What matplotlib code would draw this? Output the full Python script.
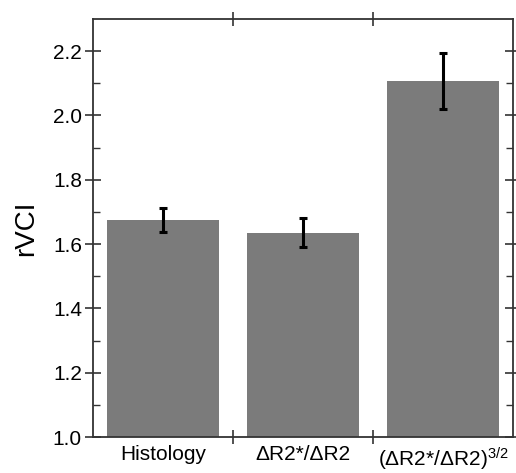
import matplotlib
matplotlib.use("Agg")
import matplotlib.pyplot as plt
from matplotlib.ticker import FixedLocator, FormatStrFormatter

plt.rcParams['font.family'] = ['Liberation Sans', 'DejaVu Sans']
plt.rcParams['mathtext.fontset'] = 'custom'
plt.rcParams['mathtext.rm'] = 'Liberation Sans'
plt.rcParams['mathtext.it'] = 'Liberation Sans'

categories = ["Histology", "ΔR2*/ΔR2", "(ΔR2*/ΔR2)$^{3/2}$"]
values = [1.675, 1.635, 2.107]
errors = [0.037, 0.045, 0.087]

fig = plt.figure(figsize=(5.16, 4.73), dpi=100)
ax = fig.add_axes([93/516, 1-437/473, (513-93)/516, (437-19)/473])

x = list(range(len(categories)))
ax.bar(x, [v - 1.0 for v in values], bottom=1.0, width=0.8, color='#7b7b7b', zorder=2)
ax.errorbar(x, values, yerr=errors, fmt='none', ecolor='black', elinewidth=2.2,
            capsize=3, capthick=2.2, zorder=3)

ax.set_xlim(-0.5, 2.5)
ax.set_ylim(1.0, 2.3)
ax.yaxis.set_major_locator(FixedLocator([1.0, 1.2, 1.4, 1.6, 1.8, 2.0, 2.2]))
ax.yaxis.set_minor_locator(FixedLocator([1.1, 1.3, 1.5, 1.7, 1.9, 2.1]))
ax.yaxis.set_major_formatter(FormatStrFormatter('%.1f'))

ax.set_xticks([0.5, 1.5])
ax.set_xticklabels([])
ax.set_xticks(x, minor=True)
ax.set_xticklabels(categories, minor=True, fontsize=15)
ax.tick_params(axis='x', which='minor', length=0, pad=6)
ax.tick_params(axis='x', which='major', direction='inout', length=10, width=1.2,
               top=True, color='#333333')

ax.tick_params(axis='y', which='major', direction='inout', length=12, width=1.2,
               labelsize=15, right=True, color='#333333', pad=2)
ax.tick_params(axis='y', which='minor', direction='in', length=5, width=1.0,
               right=True, color='#333333')

for s in ax.spines.values():
    s.set_linewidth(1.3)
    s.set_color('#333333')

ax.set_ylabel("rVCI", fontsize=20, labelpad=10)

fig.savefig("out.png", dpi=100)
